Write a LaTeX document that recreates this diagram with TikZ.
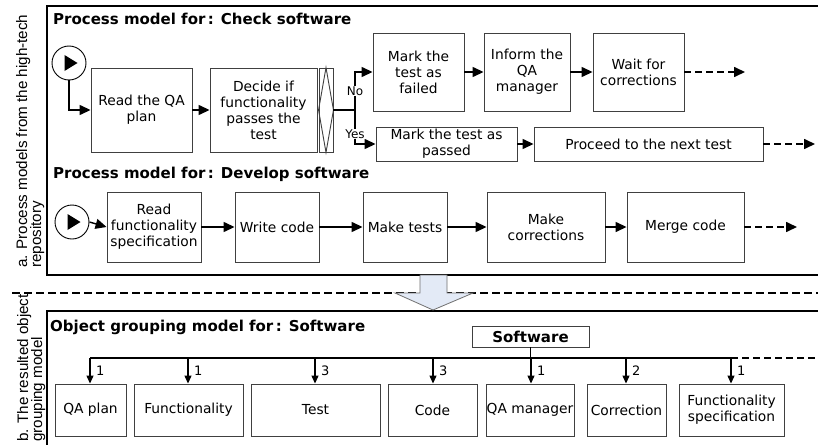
\documentclass[tikz,border=0pt]{standalone}
\usepackage{fontspec}
\setmainfont{DejaVu Sans}
\newfontfamily\sidefont{Liberation Sans}
\usetikzlibrary{arrows.meta}
\definecolor{boxcol}{HTML}{404040}
\definecolor{arrowfill}{HTML}{E3EAF6}
\definecolor{arrowdraw}{HTML}{707070}
\begin{document}
\begin{tikzpicture}[x=1pt,y=-1pt,
  box/.style={draw=boxcol, line width=0.9pt, align=center, inner sep=1pt,
    font=\fontsize{13.8}{16}\selectfont},
  frame/.style={draw=black, line width=1.5pt},
  sepline/.style={draw=black, line width=1.8pt, dash pattern=on 8pt off 4pt},
  title/.style={font=\fontsize{15}{18}\selectfont\bfseries, inner sep=0pt, anchor=base west},
  startev/.style={circle, draw=black, line width=0.9pt, minimum size=34pt, inner sep=0pt},
  plain/.style={line width=1.4pt},
  conn/.style={line width=1.4pt, -{Triangle[length=11pt,width=10pt]}},
  dasharr/.style={line width=1.6pt, dash pattern=on 7pt off 4pt, -{Triangle[length=11pt,width=10pt]}},
  dashline/.style={line width=1.6pt, dash pattern=on 7pt off 4pt},
  smallarr/.style={line width=1.2pt, -{Triangle[length=8pt,width=7pt]}},
  lbl/.style={fill=white, inner sep=1pt, font=\fontsize{12}{13}\selectfont},
  num/.style={inner sep=0pt, anchor=west, font=\fontsize{13}{14}\selectfont},
  side/.style={rotate=90, anchor=base west, inner sep=0pt, font=\sidefont\fontsize{15.2}{16}\selectfont},
  blockarrow/.style={fill=arrowfill, draw=arrowdraw, line width=0.8pt}
]
\clip (0,0) rectangle (818,444);
\fill[white] (0,0) rectangle (818,444);

% frames and separator
\draw[frame] (47,6) rectangle (830,275);
\draw[frame] (47,311) rectangle (830,460);
\draw[sepline] (12,293) -- (818,293);
\draw[blockarrow] (420,275) -- (447,275) -- (447,293) -- (473,293) -- (433,310)
  -- (395,293) -- (420,293) -- cycle;

% side labels
\node[side] (sa1) at (27,268) {a. Process models from the high-tech};
\node[side] (sa2) at (41,268) {repository};
\node[side] (sb1) at (28,442) {b. The resulted object};
\node[side] (sb2) at (42,442) {grouping model};

% titles
\node[title] (t1) at (53,25) {Process model for\,: Check software};
\node[title] (t2) at (53,178) {Process model for\,: Develop software};
\node[title] (t3) at (50,331) {Object grouping model for\,: Software};

% ---------- process 1 ----------
\node[startev] (s1) at (69,63) {};
\fill (s1.center) ++(-4.5,-8) -- ++(0,16) -- ++(13,-8) -- cycle;
\node[box, minimum width=101, minimum height=84] (read) at (141.5,110) {Read the QA\\plan};
\node[box, minimum width=107, minimum height=84] (decide) at (263.5,110) {Decide if\\functionality\\passes the\\test};
\node[box, minimum width=14, minimum height=84, inner sep=0pt] (gw) at (326,110) {};
\draw[boxcol, line width=0.9pt] (gw.north) -- (gw.east) -- (gw.south) -- (gw.west) -- cycle;
\node[box, minimum width=91, minimum height=78] (failed) at (418.5,72) {Mark the\\test as\\failed};
\node[box, minimum width=86, minimum height=78] (inform) at (527,72) {Inform the\\QA\\manager};
\node[box, minimum width=91, minimum height=78] (wait) at (638.5,72) {Wait for\\corrections};
\node[box, minimum width=141, minimum height=34, inner sep=0pt] (passed) at (446.5,144) {Mark the test as\\passed};
\node[box, minimum width=229, minimum height=34] (proceed) at (648.5,144) {Proceed to the next test};

\coordinate (split) at (355,110);
\coordinate (e1) at (745,72);
\coordinate (e2) at (815,144);
\draw[conn] (s1.south) |- (read.west);
\draw[conn] (read.east) -- (decide.west);
\draw[plain] (gw.east) -- (split);
\draw[conn] (split) |- (failed.west);
\draw[conn] (split) |- (passed.west);
\node[lbl] (no) at (355,91) {No};
\node[lbl] (yes) at (355,134) {Yes};
\draw[conn] (failed.east) -- (inform.west);
\draw[conn] (inform.east) -- (wait.west);
\draw[dasharr] (wait.east) -- (e1);
\draw[conn] (passed.east) -- (proceed.west);
\draw[dasharr] (proceed.east) -- (e2);

% ---------- process 2 ----------
\node[startev] (s2) at (72,222) {};
\fill (s2.center) ++(-4.5,-8) -- ++(0,16) -- ++(13,-8) -- cycle;
\node[box, minimum width=94, minimum height=70] (rfs) at (154,227) {Read\\functionality\\specification};
\node[box, minimum width=84, minimum height=70] (write) at (277,227) {Write code};
\node[box, minimum width=84, minimum height=70] (tests) at (405,227) {Make tests};
\node[box, minimum width=118, minimum height=70] (corr) at (546,227) {Make\\corrections};
\node[box, minimum width=117, minimum height=70] (merge) at (685.5,227) {Merge code};
\coordinate (e3) at (797,227);
\draw[conn] (s2.east) -- (rfs.west);
\draw[conn] (rfs.east) -- (write.west);
\draw[conn] (write.east) -- (tests.west);
\draw[conn] (tests.east) -- (corr.west);
\draw[conn] (corr.east) -- (merge.west);
\draw[dasharr] (merge.east) -- (e3);

% ---------- object grouping ----------
\node[box, minimum width=117, minimum height=21, inner sep=0pt,
  font=\fontsize{15}{18}\selectfont\bfseries] (software) at (530.5,336.5) {Software};
\node[box, minimum width=71, minimum height=52] (qaplan) at (90.5,410) {QA plan};
\node[box, minimum width=109, minimum height=52] (func) at (188.5,410) {Functionality};
\node[box, minimum width=129, minimum height=52] (test) at (315.5,410) {Test};
\node[box, minimum width=89, minimum height=52] (code) at (432.5,410) {Code};
\node[box, minimum width=88, minimum height=52, inner sep=0pt] (qam) at (530,410) {QA manager};
\node[box, minimum width=79, minimum height=52, inner sep=0pt] (correction) at (626.5,410) {Correction};
\node[box, minimum width=105, minimum height=52] (fspec) at (731.5,410) {Functionality\\specification};

\coordinate (b1) at (90,358);
\coordinate (b2) at (188,358);
\coordinate (b3) at (315,358);
\coordinate (b4) at (433,358);
\coordinate (b5) at (531,358);
\coordinate (b6) at (626,358);
\coordinate (b7) at (731,358);
\coordinate (bend) at (818,358);
\draw[plain, line width=1.2pt] (b1) -- (b7);
\draw[dashline] (b7) -- (bend);
\draw[plain, line width=1.2pt] (software.south) -- (software.south |- b1);
\draw[smallarr] (b1) -- (b1 |- qaplan.north);
\draw[smallarr] (b2) -- (b2 |- func.north);
\draw[smallarr] (b3) -- (b3 |- test.north);
\draw[smallarr] (b4) -- (b4 |- code.north);
\draw[smallarr] (b5) -- (b5 |- qam.north);
\draw[smallarr] (b6) -- (b6 |- correction.north);
\draw[smallarr] (b7) -- (b7 |- fspec.north);
\node[num] (n1) at (96,371) {1};
\node[num] (n2) at (194,371) {1};
\node[num] (n3) at (321,371) {3};
\node[num] (n4) at (439,371) {3};
\node[num] (n5) at (537,371) {1};
\node[num] (n6) at (632,371) {2};
\node[num] (n7) at (737,371) {1};
\end{tikzpicture}
\end{document}
